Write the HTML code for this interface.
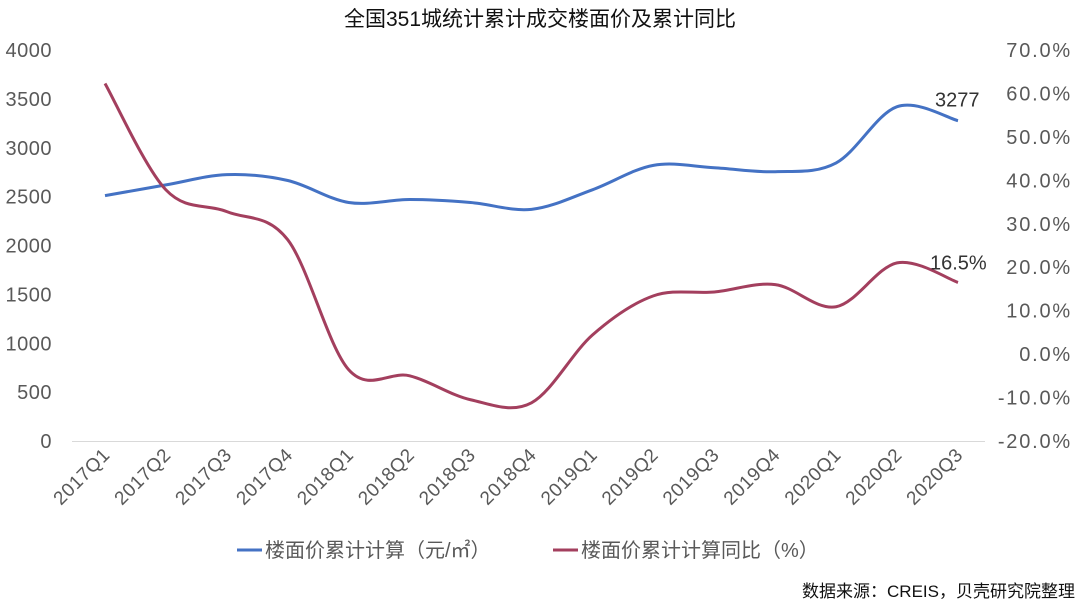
<!DOCTYPE html>
<html><head><meta charset="utf-8"><style>
body{margin:0;background:#fff;}
svg{display:block;font-family:"Liberation Sans","Noto Sans CJK SC",sans-serif;}
</style></head><body>
<svg id="c" width="1080" height="608" viewBox="0 0 1080 608">
<text x="540" y="26" text-anchor="middle" font-size="21" fill="#111">全国351城统计累计成交楼面价及累计同比</text>
<line x1="72" y1="441.5" x2="985" y2="441.5" stroke="#d9d9d9" stroke-width="1"/>
<g id="g"></g>
<g>
<line x1="237" y1="550" x2="262" y2="550" stroke="#4472c4" stroke-width="3"/>
<text x="265" y="557" font-size="20" fill="#595959">楼面价累计计算（元/㎡）</text>
<line x1="553" y1="550" x2="578" y2="550" stroke="#a33f5e" stroke-width="3"/>
<text x="581" y="557" font-size="20" fill="#595959">楼面价累计计算同比（%）</text>
</g>
<text x="1075" y="597" text-anchor="end" font-size="17" fill="#111">数据来源：CREIS，贝壳研究院整理</text>
</svg>
<script>
const categories=["2017Q1","2017Q2","2017Q3","2017Q4","2018Q1","2018Q2","2018Q3","2018Q4","2019Q1","2019Q2","2019Q3","2019Q4","2020Q1","2020Q2","2020Q3"];
const priceValues=[2510,2620,2725,2665,2440,2470,2440,2370,2570,2820,2795,2755,2845,3420,3277];
const yoyValues=[62.3,37.8,32.8,26.3,-3.6,-5.0,-10.5,-11.2,4.4,13.4,14.3,16.0,10.9,21.0,16.5];
const leftTicks=[0,500,1000,1500,2000,2500,3000,3500,4000];
const rightTicks=[-20,-10,0,10,20,30,40,50,60,70];
const NS="http://www.w3.org/2000/svg";
const g=document.getElementById('g');
const x=i=>105+i*(958-105)/(categories.length-1);
const yL=v=>441-v/4000*391;
const yR=v=>441-(v+20)/90*391;
function mk(t,a,txt){const e=document.createElementNS(NS,t);for(const k in a)e.setAttribute(k,a[k]);if(txt!==undefined)e.textContent=txt;g.appendChild(e);return e;}
leftTicks.forEach(v=>{const e=mk('text',{x:52,y:yL(v)+7,'text-anchor':'end','font-size':20,'letter-spacing':0.5,fill:'#595959'},String(v));

});
rightTicks.forEach(v=>{const e=mk('text',{x:1072,y:yR(v)+7,'text-anchor':'end','font-size':20,'letter-spacing':1.8,fill:'#595959'},v.toFixed(1)+'%');

});
categories.forEach((c,i)=>{const e=mk('text',{x:0,y:0,'text-anchor':'end','font-size':19,'letter-spacing':0.5,fill:'#595959',transform:`translate(${x(i)+6},${456}) rotate(-45)`},c);

});
function path(vals,yf){const p=vals.map((v,i)=>[x(i),yf(v)]);let d=`M${p[0][0]},${p[0][1]}`;
for(let i=0;i<p.length-1;i++){const p0=p[i-1]||p[i],p1=p[i],p2=p[i+1],p3=p[i+2]||p2;
d+=` C${p1[0]+(p2[0]-p0[0])/6},${p1[1]+(p2[1]-p0[1])/6} ${p2[0]-(p3[0]-p1[0])/6},${p2[1]-(p3[1]-p1[1])/6} ${p2[0]},${p2[1]}`;}return d;}
const a=mk('path',{d:path(priceValues,yL),fill:'none',stroke:'#4472c4','stroke-width':3});


const b=mk('path',{d:path(yoyValues,yR),fill:'none',stroke:'#a33f5e','stroke-width':3});


const n=categories.length-1;
const l1=mk('text',{x:x(n)-23,y:yL(priceValues[n])-14,'font-size':20,fill:'#333'},String(priceValues[n]));


const l2=mk('text',{x:x(n)-28,y:yR(yoyValues[n])-13,'font-size':20,fill:'#333'},yoyValues[n].toFixed(1)+'%');


</script>
</body></html>
